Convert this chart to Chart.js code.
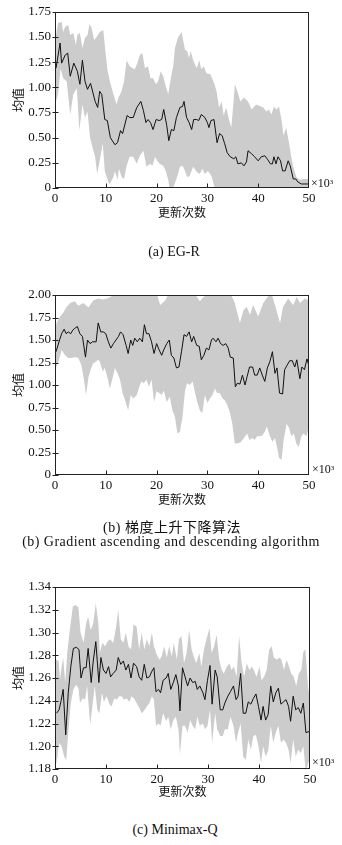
<!DOCTYPE html>
<html><head><meta charset="utf-8">
<script src="https://cdn.jsdelivr.net/npm/chart.js@4"></script>
<style>
body{margin:0;background:#fff;width:342px;height:845px;position:relative;overflow:hidden}
canvas{position:absolute;left:0}
.cap{position:absolute;width:342px;text-align:center;font-family:"Liberation Serif","Noto Sans CJK SC",serif;font-size:14px;color:#111;line-height:16px;white-space:nowrap}
.exp{position:absolute;font-family:"Liberation Serif",serif;font-size:12px;color:#111;line-height:14px}
.exp sup{font-size:7px;vertical-align:top;position:relative;top:-1px}
</style></head><body>
<canvas id="ca" width="342" height="230" style="top:0px"></canvas>
<canvas id="cb" width="342" height="230" style="top:280px"></canvas>
<canvas id="cc" width="342" height="235" style="top:570px"></canvas>
<div class="exp" style="left:311px;top:176px">×10<sup>3</sup></div>
<div class="exp" style="left:312px;top:462px">×10<sup>3</sup></div>
<div class="exp" style="left:312px;top:755px">×10<sup>3</sup></div>
<div class="cap" style="left:3px;top:244px">(a) EG-R</div>
<div class="cap" style="left:1px;top:520px;letter-spacing:0.5px">(b) 梯度上升下降算法</div>
<div class="cap" style="left:0px;top:534px;letter-spacing:0.45px">(b) Gradient ascending and descending algorithm</div>
<div class="cap" style="left:4px;top:822px">(c) Minimax-Q</div>
<script>
const xTitle = '更新次数';
const yTitle = '均值';
const xTicks = [0, 10, 20, 30, 40, 50];
const xTickLabels = ['0', '10', '20', '30', '40', '50'];

// (a) EG-R
const egrTicks = [0, 0.25, 0.5, 0.75, 1.0, 1.25, 1.5, 1.75];
const egrTickLabels = ['0', '0.25', '0.50', '0.75', '1.00', '1.25', '1.50', '1.75'];
const egrMean = [[0.2,1.19],[1.0,1.44],[1.3,1.24],[2.0,1.32],[2.5,1.34],[3.0,1.11],[3.7,1.24],[4.4,1.16],[4.9,1.03],[5.4,1.27],[5.9,1.06],[6.4,0.98],[7.0,1.04],[7.9,0.86],[8.4,0.80],[8.8,0.96],[9.2,0.93],[9.8,0.68],[10.3,0.67],[10.9,0.50],[11.8,0.43],[12.3,0.45],[12.9,0.57],[13.3,0.54],[14.2,0.72],[14.7,0.70],[15.4,0.70],[16.1,0.80],[16.9,0.86],[17.4,0.77],[17.9,0.65],[18.3,0.68],[18.8,0.65],[19.3,0.58],[19.9,0.68],[20.5,0.67],[21.0,0.68],[21.4,0.78],[22.0,0.62],[22.4,0.47],[22.9,0.58],[23.4,0.57],[23.9,0.70],[24.6,0.80],[25.1,0.81],[25.4,0.86],[25.9,0.70],[26.4,0.65],[26.9,0.58],[27.3,0.68],[27.9,0.68],[28.3,0.67],[28.8,0.73],[29.5,0.70],[30.0,0.65],[30.3,0.60],[30.7,0.67],[31.3,0.68],[31.9,0.45],[32.4,0.54],[32.9,0.52],[33.4,0.44],[33.9,0.35],[34.5,0.31],[35.2,0.29],[35.6,0.31],[36.0,0.24],[36.7,0.25],[37.2,0.22],[37.7,0.26],[38.0,0.37],[38.7,0.34],[39.3,0.31],[40.0,0.27],[40.6,0.31],[41.3,0.32],[41.9,0.28],[42.4,0.24],[42.8,0.24],[43.1,0.31],[43.5,0.24],[43.9,0.31],[44.4,0.27],[44.8,0.17],[45.3,0.17],[45.9,0.27],[46.3,0.22],[46.9,0.09],[47.4,0.09],[47.8,0.06],[48.5,0.04],[49.2,0.04],[49.8,0.04]];
const egrUpper = [[0,1.47],[0.2,1.52],[0.6,1.64],[1.3,1.65],[1.6,1.55],[2.0,1.60],[2.6,1.62],[3.0,1.52],[3.6,1.54],[4.1,1.42],[4.4,1.52],[4.9,1.54],[5.4,1.39],[5.9,1.49],[6.4,1.52],[6.8,1.63],[7.2,1.59],[7.7,1.47],[8.2,1.50],[8.8,1.55],[9.5,1.57],[9.8,1.42],[10.3,1.18],[10.8,1.06],[11.5,0.93],[12.1,0.83],[12.5,0.90],[13.1,0.96],[13.6,1.06],[14.1,1.27],[14.7,1.21],[15.3,1.19],[15.7,1.18],[16.2,1.24],[16.7,1.32],[17.2,1.34],[17.7,1.19],[18.3,1.21],[18.8,1.09],[19.3,1.09],[19.9,1.03],[20.3,1.06],[20.8,1.16],[21.3,1.11],[21.8,1.01],[22.3,0.93],[22.7,1.06],[23.3,1.22],[23.6,1.39],[24.2,1.49],[24.9,1.55],[25.6,1.37],[26.0,1.36],[26.4,1.29],[26.7,1.36],[27.2,1.27],[27.9,1.19],[28.4,1.27],[28.8,1.18],[29.3,1.21],[29.8,1.14],[30.6,1.13],[31.4,1.03],[31.8,0.96],[32.3,0.80],[32.8,0.86],[33.2,0.72],[33.7,0.80],[34.3,0.67],[34.7,0.60],[35.1,0.83],[35.4,1.03],[35.9,0.96],[36.5,0.86],[37.2,0.90],[38.0,0.86],[38.7,0.78],[39.6,0.83],[41.0,0.80],[41.6,0.76],[42.1,0.78],[42.6,0.73],[43.1,0.81],[43.6,0.78],[44.1,0.81],[44.6,0.67],[45.0,0.52],[45.5,0.60],[46.1,0.44],[46.5,0.31],[46.9,0.21],[47.5,0.11],[48.2,0.08],[48.8,0.09],[50,0.09]];
const egrLower = [[0,0.83],[0.6,0.93],[1.1,1.19],[1.6,1.09],[2.3,1.06],[3.0,0.73],[3.6,0.93],[4.3,0.99],[4.8,0.57],[5.4,0.83],[5.9,0.70],[6.4,0.76],[6.9,0.50],[7.4,0.40],[7.9,0.31],[8.3,0.14],[8.8,0.27],[9.4,0.44],[9.8,0.17],[10.5,0.06],[10.8,0.04],[11.5,0.11],[11.8,0.17],[12.3,0.08],[12.6,0.19],[13.1,0.11],[13.6,0.09],[14.1,0.22],[14.7,0.31],[15.4,0.31],[16.1,0.24],[16.7,0.32],[17.4,0.37],[18.0,0.21],[18.7,0.24],[19.2,0.22],[19.7,0.31],[20.1,0.27],[20.6,0.24],[21.3,0.22],[21.8,0.17],[22.3,0.08],[22.7,-0.05],[23.3,0.01],[23.9,0.09],[24.6,0.21],[25.1,0.22],[25.6,0.17],[26.0,0.11],[26.5,0.12],[27.2,0.21],[27.9,0.16],[28.5,0.14],[29.0,0.19],[29.5,0.14],[30.1,0.17],[30.8,0.12],[31.4,0.01],[31.8,-0.12],[33,-0.2],[35,-0.3],[38,-0.25],[41,-0.3],[44,-0.35],[47,-0.2],[50,-0.1]];

// (b) gradient ascending and descending
const gadTicks = [0, 0.25, 0.5, 0.75, 1.0, 1.25, 1.5, 1.75, 2.0];
const gadTickLabels = ['0', '0.25', '0.50', '0.75', '1.00', '1.25', '1.50', '1.75', '2.00'];
const gadMean = [[0.2,1.37],[0.9,1.50],[1.3,1.57],[1.8,1.62],[2.2,1.57],[2.6,1.59],[3.1,1.57],[3.5,1.61],[3.9,1.63],[4.4,1.65],[4.9,1.57],[5.4,1.54],[6.0,1.31],[6.4,1.50],[6.9,1.46],[7.4,1.48],[8.1,1.48],[8.5,1.69],[9.0,1.59],[9.5,1.59],[10.0,1.57],[10.5,1.48],[11.0,1.41],[11.5,1.46],[12.0,1.50],[12.5,1.54],[12.9,1.59],[13.4,1.56],[14.0,1.44],[14.4,1.35],[14.9,1.50],[15.3,1.44],[15.7,1.52],[16.2,1.48],[16.7,1.52],[17.2,1.48],[17.6,1.67],[18.0,1.57],[18.5,1.57],[19.0,1.48],[19.5,1.35],[20.0,1.46],[20.5,1.39],[21.0,1.33],[21.4,1.39],[22.0,1.46],[22.5,1.50],[22.9,1.33],[23.4,1.30],[23.9,1.19],[24.4,1.20],[24.9,1.37],[25.4,1.56],[25.9,1.54],[26.4,1.59],[26.9,1.48],[27.3,1.54],[27.9,1.44],[28.4,1.43],[28.8,1.28],[29.3,1.33],[29.8,1.41],[30.3,1.39],[30.8,1.50],[31.1,1.52],[31.7,1.48],[32.1,1.52],[32.6,1.46],[33.1,1.44],[33.6,1.46],[34.1,1.41],[34.5,1.31],[35.1,1.30],[35.5,0.98],[35.9,1.02],[36.4,1.01],[36.9,1.11],[37.4,1.00],[37.8,1.09],[38.3,1.20],[38.9,1.20],[39.3,1.11],[39.8,1.11],[40.3,1.19],[40.8,1.11],[41.3,1.04],[41.8,1.19],[42.3,1.26],[42.8,1.37],[43.3,1.13],[43.7,1.19],[44.2,0.91],[44.8,0.90],[45.2,1.17],[45.7,1.22],[46.2,1.27],[46.7,1.27],[47.2,1.20],[47.6,1.28],[48.2,1.07],[48.6,1.20],[49.1,1.17],[49.6,1.29],[50.0,1.21]];
const gadUpper = [[0,1.60],[0.3,1.69],[1.0,1.76],[1.6,1.80],[2.3,1.87],[3.0,1.91],[3.9,1.93],[4.6,1.88],[5.6,1.91],[6.6,1.86],[7.5,1.94],[8.5,1.96],[9.5,1.95],[10.3,1.96],[11.2,1.99],[12.5,2.03],[14,2.02],[15.5,2.05],[17,2.04],[18.5,2.06],[20,2.02],[20.7,1.89],[21.7,1.94],[22.5,2.03],[24,2.05],[25.5,2.03],[27,2.06],[28.5,1.93],[29.3,1.98],[30.5,2.02],[32,2.05],[33.5,2.03],[34.6,2.01],[35.4,1.91],[36.4,1.69],[37.1,1.83],[37.7,1.87],[38.4,1.78],[39.0,1.89],[40.0,1.76],[41.0,1.91],[42.0,1.99],[42.6,2.02],[43.6,1.83],[44.3,1.69],[44.9,1.87],[45.9,1.96],[46.9,1.89],[47.6,1.98],[48.2,1.91],[49.2,1.96],[50,1.94]];
const gadLower = [[0,1.17],[0.7,1.26],[1.3,1.39],[2.0,1.33],[2.6,1.30],[3.3,1.30],[3.9,1.31],[4.6,1.30],[5.2,1.22],[5.7,1.06],[6.1,0.89],[6.6,1.09],[7.0,1.17],[7.5,1.24],[8.1,1.26],[8.5,1.28],[8.8,1.26],[9.4,1.15],[9.8,1.19],[10.3,1.09],[10.8,0.96],[11.3,1.07],[11.8,1.19],[12.3,1.13],[12.8,1.06],[13.3,0.91],[13.8,0.83],[14.4,0.72],[14.9,0.89],[15.4,0.85],[16.1,0.89],[16.6,0.98],[17.0,1.04],[17.5,1.02],[18.0,1.06],[18.5,0.98],[19.0,1.06],[19.5,0.81],[20.0,0.93],[20.5,0.91],[21.0,0.89],[21.4,0.94],[22.0,0.81],[22.6,0.87],[23.1,0.72],[23.6,0.65],[24.1,0.46],[24.6,0.48],[25.1,0.65],[25.6,0.94],[26.0,1.02],[26.5,1.00],[27.1,1.04],[27.5,0.93],[28.0,0.81],[28.5,0.72],[29.0,0.69],[29.5,0.89],[30.0,0.80],[30.5,0.85],[31.0,0.89],[31.5,0.96],[31.9,0.91],[32.4,0.91],[33.0,0.85],[33.4,0.83],[33.9,0.78],[34.4,0.70],[34.9,0.57],[35.4,0.35],[35.8,0.35],[36.5,0.36],[37.2,0.41],[37.8,0.46],[38.3,0.39],[38.9,0.41],[39.3,0.39],[39.8,0.43],[40.3,0.43],[40.8,0.44],[41.3,0.48],[41.7,0.54],[42.3,0.43],[42.8,0.37],[43.3,0.41],[43.7,0.31],[44.1,0.19],[44.6,0.17],[45.0,0.39],[45.6,0.57],[46.1,0.52],[46.5,0.43],[47.0,0.46],[47.5,0.35],[48.0,0.31],[48.5,0.43],[48.9,0.46],[49.5,0.43],[50.0,0.54]];

// (c) Minimax-Q
const mmqTicks = [1.18, 1.20, 1.22, 1.24, 1.26, 1.28, 1.30, 1.32, 1.34];
const mmqTickLabels = ['1.18', '1.20', '1.22', '1.24', '1.26', '1.28', '1.30', '1.32', '1.34'];
const mmqMean = [[0.3,1.229],[0.8,1.232],[1.2,1.240],[1.6,1.250],[2.1,1.210],[2.6,1.247],[3.1,1.270],[3.6,1.286],[4.2,1.287],[4.7,1.285],[5.1,1.260],[5.6,1.269],[6.1,1.269],[6.5,1.286],[7.1,1.256],[7.5,1.275],[8.0,1.292],[8.6,1.256],[9.0,1.278],[9.5,1.267],[10.0,1.264],[10.5,1.270],[10.9,1.261],[11.4,1.264],[12.0,1.267],[12.4,1.278],[12.9,1.272],[13.4,1.275],[13.9,1.267],[14.4,1.272],[14.9,1.260],[15.4,1.273],[16.0,1.270],[16.5,1.261],[17.0,1.258],[17.5,1.272],[18.0,1.260],[18.5,1.261],[19.0,1.266],[19.4,1.269],[19.8,1.248],[20.3,1.250],[20.7,1.247],[21.2,1.258],[21.8,1.260],[22.2,1.264],[22.7,1.250],[23.2,1.256],[23.7,1.263],[24.2,1.253],[24.5,1.231],[25.0,1.269],[25.5,1.261],[26.0,1.253],[26.5,1.260],[27.0,1.256],[27.5,1.257],[27.9,1.250],[28.4,1.253],[29.0,1.247],[29.4,1.241],[29.9,1.258],[30.4,1.271],[30.8,1.237],[31.4,1.267],[31.8,1.261],[32.4,1.232],[32.9,1.232],[33.3,1.238],[33.9,1.244],[34.4,1.248],[35.0,1.253],[35.5,1.241],[35.9,1.244],[36.4,1.264],[36.9,1.229],[37.4,1.229],[37.9,1.239],[38.4,1.237],[38.9,1.242],[39.4,1.246],[39.9,1.235],[40.4,1.223],[40.8,1.235],[41.3,1.223],[41.8,1.228],[42.3,1.253],[42.8,1.239],[43.3,1.247],[43.8,1.251],[44.3,1.237],[44.8,1.239],[45.3,1.241],[45.8,1.235],[46.2,1.222],[46.7,1.244],[47.2,1.232],[47.7,1.234],[48.2,1.229],[48.7,1.238],[49.2,1.212],[49.9,1.213]];
const mmqUpper = [[0,1.270],[0.2,1.276],[0.7,1.275],[1.0,1.259],[1.3,1.270],[1.6,1.278],[2.0,1.256],[2.4,1.282],[2.9,1.302],[3.5,1.323],[4.1,1.324],[4.6,1.322],[5.0,1.300],[5.6,1.291],[6.1,1.308],[6.5,1.314],[7.0,1.302],[7.5,1.308],[8.0,1.326],[8.5,1.308],[8.8,1.282],[9.3,1.291],[9.8,1.288],[10.3,1.292],[10.8,1.294],[11.4,1.291],[12.0,1.305],[12.4,1.320],[12.9,1.294],[13.4,1.291],[13.9,1.300],[14.4,1.288],[14.9,1.285],[15.4,1.307],[16.0,1.305],[16.5,1.285],[17.0,1.300],[17.5,1.285],[18.0,1.294],[18.5,1.288],[19.0,1.300],[19.4,1.288],[19.9,1.281],[20.5,1.276],[20.9,1.279],[21.4,1.288],[21.9,1.278],[22.4,1.288],[22.9,1.279],[23.3,1.291],[23.9,1.276],[24.3,1.294],[24.8,1.297],[25.3,1.273],[25.8,1.282],[26.3,1.302],[26.8,1.285],[27.2,1.279],[27.7,1.273],[28.3,1.282],[28.7,1.270],[29.2,1.285],[29.7,1.294],[30.3,1.304],[30.7,1.282],[31.2,1.288],[31.7,1.298],[32.2,1.276],[32.7,1.267],[33.1,1.264],[33.7,1.270],[34.2,1.273],[34.6,1.267],[35.1,1.270],[35.6,1.261],[36.1,1.297],[36.6,1.273],[37.1,1.261],[37.6,1.273],[38.1,1.267],[38.6,1.270],[39.0,1.267],[39.5,1.261],[40.1,1.270],[40.5,1.258],[41.0,1.261],[41.5,1.267],[42.0,1.285],[42.5,1.288],[42.9,1.278],[43.5,1.276],[44.0,1.278],[44.4,1.276],[44.9,1.267],[45.4,1.276],[45.9,1.270],[46.3,1.264],[46.8,1.261],[47.3,1.253],[47.8,1.264],[48.3,1.267],[48.7,1.283],[49.1,1.285],[49.6,1.253],[50.0,1.241]];
const mmqLower = [[0,1.178],[0.1,1.182],[0.5,1.191],[0.8,1.203],[1.3,1.200],[1.8,1.191],[2.2,1.188],[2.6,1.212],[3.1,1.238],[3.6,1.250],[4.1,1.254],[4.6,1.251],[4.9,1.238],[5.4,1.242],[5.9,1.241],[6.3,1.253],[6.9,1.219],[7.4,1.238],[7.8,1.253],[8.3,1.232],[8.7,1.229],[9.2,1.247],[9.6,1.239],[10.1,1.244],[10.7,1.237],[11.1,1.235],[11.6,1.242],[12.1,1.241],[12.6,1.244],[13.1,1.244],[13.5,1.241],[14.1,1.242],[14.6,1.239],[15.0,1.244],[15.5,1.242],[16.0,1.238],[16.5,1.234],[17.0,1.229],[17.4,1.231],[18.0,1.235],[18.5,1.238],[19.0,1.244],[19.4,1.241],[19.8,1.218],[20.3,1.220],[20.7,1.218],[21.2,1.229],[21.8,1.222],[22.2,1.226],[22.7,1.215],[23.2,1.223],[23.7,1.226],[24.2,1.215],[24.5,1.193],[25.0,1.218],[25.5,1.218],[26.0,1.212],[26.5,1.223],[27.0,1.218],[27.5,1.215],[27.9,1.226],[28.4,1.218],[29.0,1.220],[29.4,1.215],[29.9,1.218],[30.4,1.232],[30.8,1.203],[31.4,1.229],[31.8,1.215],[32.4,1.209],[32.9,1.209],[33.3,1.215],[33.9,1.215],[34.4,1.226],[35.0,1.218],[35.5,1.203],[35.9,1.212],[36.4,1.220],[36.9,1.191],[37.4,1.188],[37.9,1.206],[38.4,1.197],[38.9,1.209],[39.4,1.210],[39.9,1.200],[40.4,1.185],[40.8,1.200],[41.3,1.191],[41.8,1.196],[42.3,1.218],[42.8,1.203],[43.3,1.212],[43.8,1.218],[44.3,1.203],[44.8,1.206],[45.3,1.203],[45.8,1.197],[46.2,1.185],[46.7,1.206],[47.2,1.191],[47.7,1.197],[48.2,1.194],[48.7,1.200],[49.2,1.176],[49.6,1.185],[50.0,1.188]];

const INK = '#111';
const BAND = '#cccccc';
const tickFont = {family: 'Liberation Serif', size: 13};
const titleFont = {family: 'Noto Sans CJK SC', size: 12};

const framePlugin = {
  id: 'frame',
  afterDraw(chart) {
    const {ctx, chartArea: a, scales} = chart;
    ctx.save();
    ctx.strokeStyle = '#222';
    ctx.lineWidth = 1;
    const l = Math.round(a.left) + 0.5, r = Math.round(a.right) - 0.5;
    const t = Math.round(a.top) + 0.5, b = Math.round(a.bottom) - 0.5;
    ctx.strokeRect(l, t, r - l, b - t);
    ctx.beginPath();
    scales.x.ticks.forEach(tk => {
      const px = Math.round(scales.x.getPixelForValue(tk.value)) + 0.5;
      if (px > l + 1 && px < r - 1) { ctx.moveTo(px, b); ctx.lineTo(px, b - 4); }
    });
    scales.y.ticks.forEach(tk => {
      const py = Math.round(scales.y.getPixelForValue(tk.value)) + 0.5;
      ctx.moveTo(l - 3, py); ctx.lineTo(l + 3, py);
    });
    ctx.stroke();
    ctx.restore();
  }
};

const pts = arr => arr.map(p => ({x: p[0], y: p[1]}));

function build(id, o) {
  return new Chart(document.getElementById(id), {
    type: 'line',
    data: {datasets: [
      {data: pts(o.upper), borderWidth: 0, pointRadius: 0, fill: false, order: 3},
      {data: pts(o.lower), borderWidth: 0, pointRadius: 0, fill: '-1', backgroundColor: BAND, order: 2},
      {data: pts(o.mean), borderColor: '#111', borderWidth: 1, pointRadius: 0, fill: false, tension: 0, order: 1}
    ]},
    options: {
      responsive: false, animation: false, devicePixelRatio: 1,
      layout: {padding: {top: o.top, right: o.right, left: 0, bottom: 0}},
      plugins: {legend: {display: false}, tooltip: {enabled: false}},
      scales: {
        x: {
          type: 'linear', min: 0, max: 50,
          grid: {display: false, drawTicks: false}, border: {display: false},
          afterBuildTicks: s => { s.ticks = xTicks.map(v => ({value: v})); },
          afterFit: s => { s.height = o.xh; },
          ticks: {padding: 3, font: tickFont, color: INK, maxRotation: 0, autoSkip: false,
                  callback: (v, i) => xTickLabels[i]},
          title: {display: true, text: xTitle, font: titleFont, color: INK, padding: {top: 0, bottom: o.tpb}}
        },
        y: {
          type: 'linear', min: o.yTicks[0], max: o.yTicks[o.yTicks.length - 1],
          grid: {display: false, drawTicks: false}, border: {display: false},
          afterBuildTicks: s => { s.ticks = o.yTicks.map(v => ({value: v})); },
          afterFit: s => { s.width = 55; },
          ticks: {padding: 4, font: tickFont, color: INK, autoSkip: false,
                  callback: (v, i) => o.yLabels[i]},
          title: {display: true, text: yTitle, font: titleFont, color: INK, padding: {top: 11, bottom: 0}}
        }
      }
    },
    plugins: [framePlugin]
  });
}

build('ca', {upper: egrUpper, lower: egrLower, mean: egrMean, yTicks: egrTicks, yLabels: egrTickLabels,
             top: 10, right: 33, xh: 42, tpb: 10.8});
build('cb', {upper: gadUpper, lower: gadLower, mean: gadMean, yTicks: gadTicks, yLabels: gadTickLabels,
             top: 15, right: 33, xh: 35, tpb: 3.8});
build('cc', {upper: mmqUpper, lower: mmqLower, mean: mmqMean, yTicks: mmqTicks, yLabels: mmqTickLabels,
             top: 17, right: 32, xh: 36, tpb: 6.8});
</script>
</body></html>
